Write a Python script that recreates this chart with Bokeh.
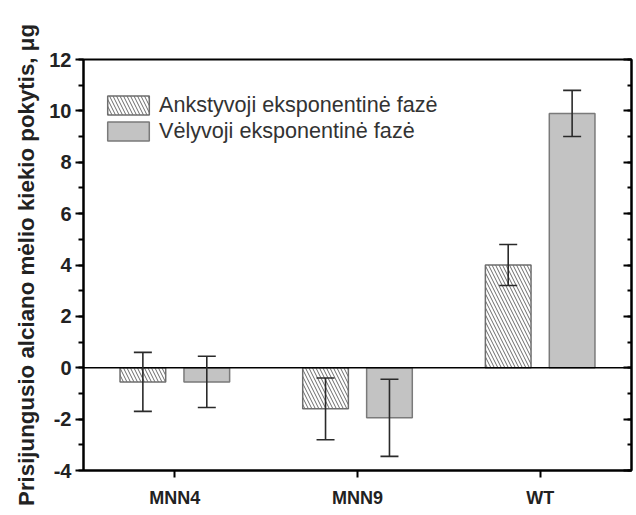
from bokeh.plotting import figure
from bokeh.models import (ColumnDataSource, FactorRange, Whisker, Span, Legend,
                          LegendItem, LinearAxis, FixedTicker, Range1d)
from bokeh.transform import dodge
from bokeh.embed import file_html
from bokeh.resources import INLINE

# Strains and measured change of bound alcian blue (µg)
strains = ["MNN4", "MNN9", "WT"]
early_phase = [-0.55, -1.6, 4.0]
early_err = [1.15, 1.2, 0.8]
late_phase = [-0.55, -1.95, 9.9]
late_err = [1.0, 1.5, 0.9]
y_ticks = [-4, -2, 0, 2, 4, 6, 8, 10, 12]
y_minor = list(range(-4, 13))

src = ColumnDataSource(dict(
    strain=strains,
    early=early_phase,
    early_lo=[v - e for v, e in zip(early_phase, early_err)],
    early_hi=[v + e for v, e in zip(early_phase, early_err)],
    late=late_phase,
    late_lo=[v - e for v, e in zip(late_phase, late_err)],
    late_hi=[v + e for v, e in zip(late_phase, late_err)],
))

FONT = "Liberation Sans"

p = figure(width=636, height=515, x_range=FactorRange(*strains, range_padding=0),
           y_range=Range1d(-4, 12), output_backend="svg", toolbar_location=None,
           min_border_left=83, min_border_right=5, min_border_top=59,
           min_border_bottom=45)

p.xgrid.visible = False
p.ygrid.visible = False
p.outline_line_color = "black"
p.outline_line_width = 2
p.background_fill_color = "white"
p.border_fill_color = "white"

# zero reference line
p.add_layout(Span(location=0, dimension="width", line_color="black", line_width=1.6))

OFF = 0.175
W = 0.25

early_r = p.vbar(x=dodge("strain", -OFF, range=p.x_range), top="early", bottom=0,
                 width=W, source=src, fill_color="white", line_color="#6e6e6e",
                 line_width=1.5, hatch_pattern="\\", hatch_color="#6a6a6a",
                 hatch_scale=7, hatch_weight=1)
late_r = p.vbar(x=dodge("strain", OFF, range=p.x_range), top="late", bottom=0,
                width=W, source=src, fill_color="#c3c3c3", line_color="#7a7a7a",
                line_width=1.5)

# error bars drawn over the bars
for pos, lo, hi in [(-OFF, "early_lo", "early_hi"), (OFF, "late_lo", "late_hi")]:
    wk = Whisker(base=dodge("strain", pos, range=p.x_range), lower=lo, upper=hi,
                 source=src, line_color="#2a2a2a", line_width=1.6, level="overlay")
    for head in (wk.upper_head, wk.lower_head):
        head.size = 18
        head.line_color = "#2a2a2a"
        head.line_width = 1.6
    p.add_layout(wk)

# left axis
ya = p.yaxis[0]
ya.ticker = FixedTicker(ticks=y_ticks, minor_ticks=y_minor)
ya.major_label_overrides = {t: str(t) for t in y_ticks}
ya.axis_label = "Prisijungusio alciano mėlio kiekio pokytis, μg"
ya.axis_label_text_font = FONT
ya.axis_label_text_font_style = "bold"
ya.axis_label_text_font_size = "22.3px"
ya.axis_label_text_color = "#222222"
ya.axis_label_standoff = 7
ya.major_label_text_font = FONT
ya.major_label_text_font_style = "bold"
ya.major_label_text_font_size = "20px"
ya.major_label_text_color = "#222222"
ya.major_label_standoff = 4
ya.axis_line_width = 2
ya.major_tick_line_width = 2
ya.minor_tick_line_width = 2
ya.major_tick_out = 8
ya.major_tick_in = 0
ya.minor_tick_out = 5
ya.minor_tick_in = 0

# bottom axis
xa = p.xaxis[0]
xa.major_label_text_font = FONT
xa.major_label_text_font_style = "bold"
xa.major_label_text_font_size = "18px"
xa.major_label_text_color = "#222222"
xa.major_label_standoff = 10
xa.axis_line_width = 2
xa.major_tick_line_width = 2
xa.major_tick_out = 7
xa.major_tick_in = 0

# right axis: inward ticks, no labels
ra = LinearAxis(ticker=FixedTicker(ticks=y_ticks, minor_ticks=y_minor),
                major_label_overrides={t: "" for t in y_ticks},
                axis_line_width=2,
                major_tick_in=8, major_tick_out=0, minor_tick_in=4, minor_tick_out=0,
                major_tick_line_width=2, minor_tick_line_width=2,
                major_label_standoff=0)
p.add_layout(ra, "right")

legend = Legend(items=[
    LegendItem(label="Ankstyvoji eksponentinė fazė", renderers=[early_r]),
    LegendItem(label="Vėlyvoji eksponentinė fazė", renderers=[late_r]),
], location=(19, 326), glyph_width=52, glyph_height=24, label_height=24,
   spacing=0, padding=0, margin=0, label_standoff=5,
   label_text_font=FONT, label_text_font_size="21.6px", label_text_color="#333333",
   border_line_color=None, background_fill_alpha=0)
p.add_layout(legend)

open("out.html", "w").write(file_html(p, INLINE))
